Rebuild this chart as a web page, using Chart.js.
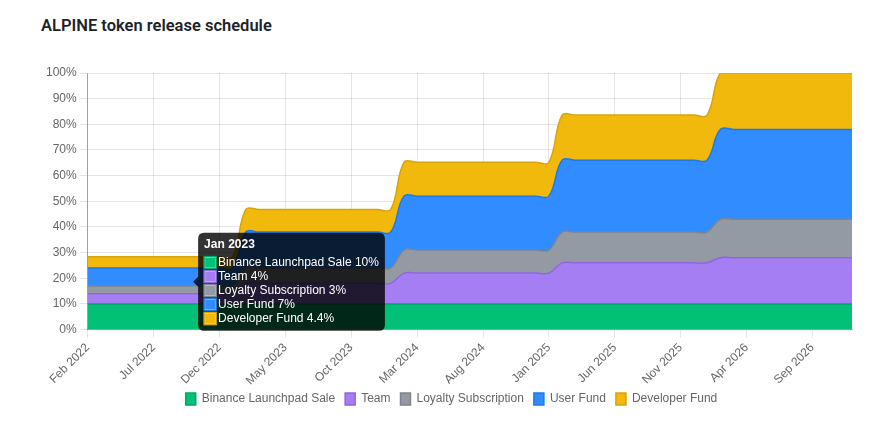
<!DOCTYPE html>
<html>
<head>
<meta charset="utf-8">
<script src="https://cdn.jsdelivr.net/npm/chart.js@4.4.1/dist/chart.umd.min.js"></script>
<style>
  body { margin: 0; background: #fff; }
  h3 { position: absolute; left: 41px; top: 16px; margin: 0; font: 600 16.5px Roboto, Arial, sans-serif; color: #1e2329; }
  #wrap { position: absolute; left: 0; top: 40px; width: 884px; height: 385px; }
</style>
</head>
<body>
<h3>ALPINE token release schedule</h3>
<div id="wrap"><canvas id="releaseChart"></canvas></div>
<script>
// meses do cronograma
const months = [
  'Feb 2022', 'Mar 2022', 'Apr 2022', 'May 2022', 'Jun 2022', 'Jul 2022', 'Aug 2022', 'Sep 2022', 'Oct 2022', 'Nov 2022', 'Dec 2022', 'Jan 2023',
  'Feb 2023', 'Mar 2023', 'Apr 2023', 'May 2023', 'Jun 2023', 'Jul 2023', 'Aug 2023', 'Sep 2023', 'Oct 2023', 'Nov 2023', 'Dec 2023', 'Jan 2024',
  'Feb 2024', 'Mar 2024', 'Apr 2024', 'May 2024', 'Jun 2024', 'Jul 2024', 'Aug 2024', 'Sep 2024', 'Oct 2024', 'Nov 2024', 'Dec 2024', 'Jan 2025',
  'Feb 2025', 'Mar 2025', 'Apr 2025', 'May 2025', 'Jun 2025', 'Jul 2025', 'Aug 2025', 'Sep 2025', 'Oct 2025', 'Nov 2025', 'Dec 2025', 'Jan 2026',
  'Feb 2026', 'Mar 2026', 'Apr 2026', 'May 2026', 'Jun 2026', 'Jul 2026', 'Aug 2026', 'Sep 2026', 'Oct 2026', 'Nov 2026', 'Dec 2026'
];

// percentuais liberados por categoria
const binanceSale = [
  10, 10, 10, 10, 10, 10, 10, 10, 10, 10, 10, 10,
  10, 10, 10, 10, 10, 10, 10, 10, 10, 10, 10, 10,
  10, 10, 10, 10, 10, 10, 10, 10, 10, 10, 10, 10,
  10, 10, 10, 10, 10, 10, 10, 10, 10, 10, 10, 10,
  10, 10, 10, 10, 10, 10, 10, 10, 10, 10, 10
];
const team = [
  4, 4, 4, 4, 4, 4, 4, 4, 4, 4, 4, 4,
  8, 8, 8, 8, 8, 8, 8, 8, 8, 8, 8, 8,
  12, 12, 12, 12, 12, 12, 12, 12, 12, 12, 12, 12,
  16, 16, 16, 16, 16, 16, 16, 16, 16, 16, 16, 16,
  18, 18, 18, 18, 18, 18, 18, 18, 18, 18, 18
];
const loyalty = [
  3, 3, 3, 3, 3, 3, 3, 3, 3, 3, 3, 3,
  6, 6, 6, 6, 6, 6, 6, 6, 6, 6, 6, 6,
  9, 9, 9, 9, 9, 9, 9, 9, 9, 9, 9, 9,
  12, 12, 12, 12, 12, 12, 12, 12, 12, 12, 12, 12,
  15, 15, 15, 15, 15, 15, 15, 15, 15, 15, 15
];
const userFund = [
  7, 7, 7, 7, 7, 7, 7, 7, 7, 7, 7, 7,
  14, 14, 14, 14, 14, 14, 14, 14, 14, 14, 14, 14,
  21, 21, 21, 21, 21, 21, 21, 21, 21, 21, 21, 21,
  28, 28, 28, 28, 28, 28, 28, 28, 28, 28, 28, 28,
  35, 35, 35, 35, 35, 35, 35, 35, 35, 35, 35
];
const devFund = [
  4.4, 4.4, 4.4, 4.4, 4.4, 4.4, 4.4, 4.4, 4.4, 4.4, 4.4, 4.4,
  8.8, 8.8, 8.8, 8.8, 8.8, 8.8, 8.8, 8.8, 8.8, 8.8, 8.8, 8.8,
  13.2, 13.2, 13.2, 13.2, 13.2, 13.2, 13.2, 13.2, 13.2, 13.2, 13.2, 13.2,
  17.6, 17.6, 17.6, 17.6, 17.6, 17.6, 17.6, 17.6, 17.6, 17.6, 17.6, 17.6,
  22, 22, 22, 22, 22, 22, 22, 22, 22, 22, 22
];

const series = [
  { label: 'Binance Launchpad Sale', data: binanceSale, fill: '#02c076', line: '#03a66d' },
  { label: 'Team', data: team, fill: '#a67ef4', line: '#8f66e0' },
  { label: 'Loyalty Subscription', data: loyalty, fill: '#939aa4', line: '#7d848f' },
  { label: 'User Fund', data: userFund, fill: '#318cff', line: '#1f78e8' },
  { label: 'Developer Fund', data: devFund, fill: '#f0b90b', line: '#d9a40a' }
];

// tooltip congelado no meio da animação, como na captura
Chart.Tooltip.positioners.lagged = function (items) {
  const avg = Chart.Tooltip.positioners.average.call(this, items);
  if (!avg) return false;
  const xs = this.chart.scales.x;
  return { x: xs.getPixelForValue(items[0].index - 3) - 2, y: avg.y };
};

// ajusta a posição da legenda
const legendShift = {
  id: 'legendShift',
  afterLayout(chart) {
    chart.legend.top -= 8;
    chart.legend.bottom -= 8;
    chart.legend.left += 4;
    chart.legend.right += 4;
  }
};

Chart.defaults.font.family = 'Arial, "Liberation Sans", sans-serif';
Chart.defaults.font.size = 12;
Chart.defaults.color = '#666';

const ctx = document.getElementById('releaseChart').getContext('2d');
const chart = new Chart(ctx, {
  type: 'line',
  data: {
    labels: months,
    datasets: series.map((s, i) => ({
      label: s.label,
      data: s.data,
      backgroundColor: s.fill,
      borderColor: s.line,
      borderWidth: 1.5,
      fill: i === 0 ? 'origin' : '-1',
      tension: 0.4,
      pointRadius: 0,
      pointHoverRadius: 0
    }))
  },
  plugins: [legendShift],
  options: {
    responsive: true,
    maintainAspectRatio: false,
    animation: false,
    layout: { padding: { left: 43, right: 32, top: 33, bottom: 2 } },
    interaction: { mode: 'index', intersect: false },
    scales: {
      x: {
        grid: { color: 'rgba(0,0,0,0.1)' },
        border: { color: 'rgba(0,0,0,0.3)' },
        afterBuildTicks: scale => {
          scale.ticks = scale.ticks.filter((t, i) => i % 5 === 0);
        },
        ticks: { autoSkip: false, minRotation: 45, maxRotation: 45, color: '#666' }
      },
      y: {
        stacked: true,
        min: 0,
        max: 100,
        grid: { color: 'rgba(0,0,0,0.1)' },
        border: { color: 'rgba(0,0,0,0.3)' },
        ticks: { stepSize: 10, color: '#666', callback: v => v + '%' }
      }
    },
    plugins: {
      legend: {
        position: 'bottom',
        labels: { boxWidth: 10, boxHeight: 12, padding: 10, color: '#666' }
      },
      tooltip: {
        position: 'lagged',
        xAlign: 'left',
        yAlign: 'center',
        padding: 6,
        bodySpacing: 2,
        titleMarginBottom: 6,
        boxPadding: 0,
        cornerRadius: 6,
        titleFont: { size: 12, weight: 'bold', lineHeight: 1 },
        bodyFont: { size: 12, lineHeight: 1 },
        callbacks: {
          label: item => item.dataset.label + ' ' + item.raw + '%'
        }
      }
    }
  }
});

// mostrar o tooltip de Jan 2023
const janIdx = months.indexOf('Jan 2023');
chart.tooltip.setActiveElements(series.map((s, i) => ({ datasetIndex: i, index: janIdx })), { x: 0, y: 0 });
chart.update();
</script>
</body>
</html>
